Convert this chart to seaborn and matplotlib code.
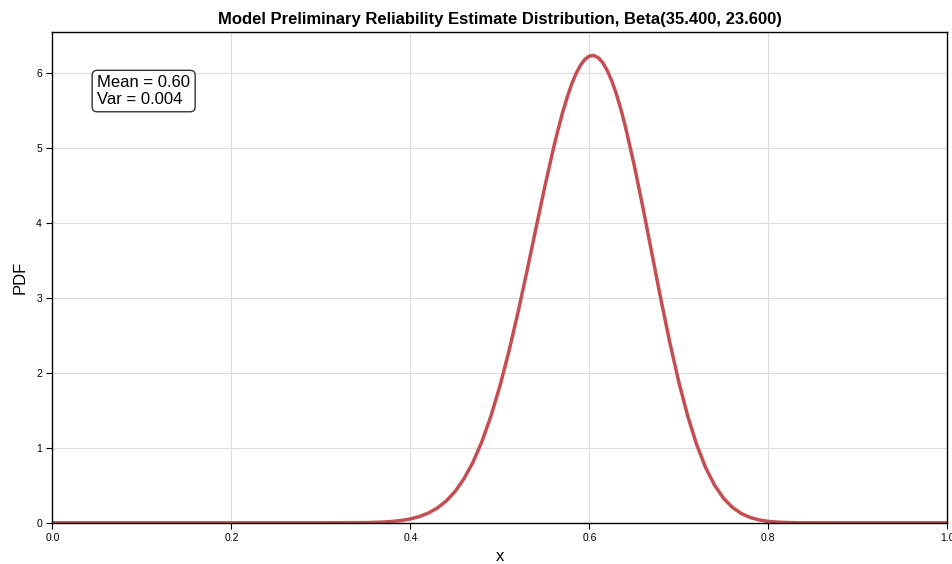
import seaborn as sns
import matplotlib.pyplot as plt
import pandas as pd

# values
x_vals = [0.0, 0.1, 0.2, 0.3, 0.35, 0.36, 0.37, 0.38, 0.39, 0.40, 0.41, 0.42, 0.43,
          0.44, 0.45, 0.46, 0.47, 0.48, 0.49, 0.50, 0.51, 0.52, 0.53, 0.54, 0.55,
          0.56, 0.565, 0.57, 0.575, 0.58, 0.585, 0.59, 0.595, 0.60, 0.605, 0.61,
          0.615, 0.62, 0.625, 0.63, 0.635, 0.64, 0.65, 0.66, 0.67,
          0.68, 0.69, 0.70, 0.71, 0.72, 0.73, 0.74, 0.75, 0.76, 0.77, 0.78, 0.79,
          0.80, 0.81, 0.82, 0.83, 0.84, 0.9, 1.0]
pdf_vals = [0.0, 0.0, 0.0, 0.0001, 0.0032, 0.006, 0.0107, 0.0187, 0.0317, 0.0521,
            0.0833, 0.1297, 0.1967, 0.2906, 0.419, 0.5898, 0.8098, 1.0864, 1.4236,
            1.8235, 2.2826, 2.7937, 3.3428, 3.911, 4.4741, 5.0038, 5.2472, 5.4713,
            5.672, 5.8474, 5.993, 6.107, 6.187, 6.231, 6.2384, 6.2089, 6.142, 6.039,
            5.9017, 5.7318, 5.5315, 5.3044, 4.7839, 4.2012, 3.5891,
            2.9807, 2.4031, 1.879, 1.4225, 1.0414, 0.7358, 0.5008, 0.3275, 0.2054,
            0.123, 0.0702, 0.038, 0.0195, 0.0094, 0.0042, 0.0018, 0.0007, 0.0, 0.0]
mean_txt = "Mean = 0.60"
var_txt = "Var = 0.004"
title = "Model Preliminary Reliability Estimate Distribution, Beta(35.400, 23.600)"

df = pd.DataFrame({"x": x_vals, "PDF": pdf_vals})

sns.set_style("whitegrid", {"axes.edgecolor": "black", "grid.color": "#dddddd",
                            "xtick.bottom": True, "ytick.left": True,
                            "text.color": "black", "axes.labelcolor": "black",
                            "xtick.color": "black", "ytick.color": "black"})
plt.rcParams["font.family"] = ["Liberation Sans", "DejaVu Sans"]

fig, ax = plt.subplots(figsize=(9.53, 5.64), dpi=100)
fig.subplots_adjust(left=0.055, right=0.994, top=0.943, bottom=0.073)

sns.lineplot(data=df, x="x", y="PDF", ax=ax, color="#c44e52", linewidth=2.5)

ax.set_xlim(0, 1)
ax.set_ylim(0, max(pdf_vals) * 1.05)
ax.set_title(title, fontsize=12, fontweight="bold", pad=6)
ax.set_xlabel("x", fontsize=12, labelpad=4)
ax.set_ylabel("PDF", fontsize=12, labelpad=6)
ax.tick_params(labelsize=7.5, length=4, width=0.8)
for s in ax.spines.values():
    s.set_linewidth(1.0)

ax.text(0.05, 0.912, mean_txt + "\n" + var_txt, transform=ax.transAxes,
        fontsize=12, va="top", ha="left", linespacing=1.12,
        bbox=dict(boxstyle="round,pad=0.3", facecolor="white", edgecolor="#333333"))

plt.savefig("out.png", dpi=100)
